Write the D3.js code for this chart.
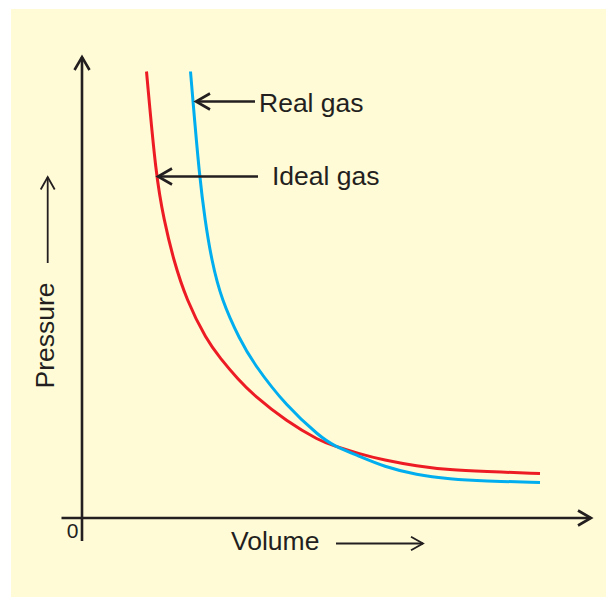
<!DOCTYPE html>
<html>
<head>
<meta charset="utf-8">
<script src="https://cdn.jsdelivr.net/npm/d3@7"></script>
<style>
  html, body { margin: 0; padding: 0; background: #ffffff; }
  svg { display: block; }
  text { font-family: "Liberation Sans", Arial, Helvetica, sans-serif; fill: #231f20; }
</style>
</head>
<body>
<svg id="chart" width="606" height="597"></svg>
<script>
// ---- data ----
const volumeIdeal   = [1.29, 1.48, 1.64, 1.83, 2.09, 2.49, 2.76, 3.13, 3.43, 4.09, 4.76, 5.02, 5.56, 6.03, 6.69, 7.36, 8.03, 9.16];
const pressureIdeal = [8.93, 6.83, 5.96, 5.16, 4.36, 3.56, 3.20, 2.76, 2.46, 1.93, 1.54, 1.45, 1.28, 1.16, 1.04, 0.96, 0.93, 0.89];
const volumeReal    = [2.17, 2.22, 2.35, 2.46, 2.59, 2.79, 3.16, 3.43, 4.09, 4.76, 5.02, 5.56, 6.03, 6.69, 7.36, 8.03, 9.16];
const pressureReal  = [8.93, 8.33, 6.83, 5.96, 5.16, 4.36, 3.56, 3.09, 2.23, 1.63, 1.45, 1.23, 1.03, 0.86, 0.78, 0.74, 0.71];
const seriesNames   = ["Ideal gas", "Real gas"];
const seriesColors  = ["#ed1c24", "#00aeef"];
const tickLabels    = ["0"];
const axisTitles    = ["Volume", "Pressure"];

// ---- layout ----
const svg = d3.select("#chart");
const ink = "#231f20";
svg.append("rect").attr("x", 11).attr("y", 9).attr("width", 595).attr("height", 588).attr("fill", "#fffbd6");

const x = d3.scaleLinear().domain([0, 10]).range([82, 582]);
const y = d3.scaleLinear().domain([0, 9.2]).range([518, 58]);

function arrowHead(g, tx, ty, dir, len, half, width) {
  let p;
  if (dir === "right") p = [[tx - len, ty - half], [tx, ty], [tx - len, ty + half]];
  else if (dir === "left") p = [[tx + len, ty - half], [tx, ty], [tx + len, ty + half]];
  else p = [[tx - half, ty + len], [tx, ty], [tx + half, ty + len]];
  g.append("path").attr("d", d3.line()(p)).attr("fill", "none")
    .attr("stroke", ink).attr("stroke-width", width).attr("stroke-linejoin", "miter");
}

// axes
const axes = svg.append("g");
axes.append("line").attr("x1", x(-0.41)).attr("x2", x(10.18)).attr("y1", y(0)).attr("y2", y(0))
  .attr("stroke", ink).attr("stroke-width", 2.6);
arrowHead(axes, x(10.18), y(0), "right", 13, 7.5, 2.6);
axes.append("line").attr("x1", x(0)).attr("x2", x(0)).attr("y1", y(-0.46)).attr("y2", y(9.22))
  .attr("stroke", ink).attr("stroke-width", 2.6);
arrowHead(axes, x(0), y(9.22), "up", 13, 7.5, 2.6);

// tick label "0"
axes.append("text").attr("x", x(0) - 3.5).attr("y", y(0) + 20).attr("text-anchor", "end")
  .attr("font-size", 21).text(tickLabels[0]);

// axis titles
svg.append("text").attr("x", 231).attr("y", 550).attr("font-size", 26.5).text(axisTitles[0]);
svg.append("line").attr("x1", 336).attr("x2", 423).attr("y1", 543.5).attr("y2", 543.5)
  .attr("stroke", ink).attr("stroke-width", 1.8);
arrowHead(svg, 423, 543.5, "right", 12, 6.7, 1.8);

svg.append("text").attr("transform", "translate(54,335.5) rotate(-90)")
  .attr("text-anchor", "middle").attr("font-size", 26.5).text(axisTitles[1]);
svg.append("line").attr("x1", 47.7).attr("x2", 47.7).attr("y1", 263).attr("y2", 177)
  .attr("stroke", ink).attr("stroke-width", 1.8);
arrowHead(svg, 47.7, 177, "up", 12.5, 7, 1.8);

// curves (smoothed B-spline through the read points)
const line = d3.line().x(d => x(d[0])).y(d => y(d[1])).curve(d3.curveBasis);
const ideal = volumeIdeal.map((v, i) => [v, pressureIdeal[i]]);
const real = volumeReal.map((v, i) => [v, pressureReal[i]]);
[ideal, real].forEach((pts, i) => {
  svg.append("path").datum(pts).attr("d", line).attr("fill", "none")
    .attr("stroke", seriesColors[i]).attr("stroke-width", 3);
});

// annotations
const ann = [
  { name: seriesNames[1], pt: real[1], off: 3, tail: 59, textDx: 63, textDy: 10 },
  { name: seriesNames[0], pt: ideal[1], off: 2, tail: 100, textDx: 114, textDy: 8 }
];
ann.forEach(a => {
  const tx = x(a.pt[0]) + a.off, ty = y(a.pt[1]);
  svg.append("line").attr("x1", tx).attr("x2", tx + a.tail).attr("y1", ty).attr("y2", ty)
    .attr("stroke", ink).attr("stroke-width", 2.6);
  arrowHead(svg, tx, ty, "left", 14, 8, 2.6);
  svg.append("text").attr("x", tx + a.textDx).attr("y", ty + a.textDy).attr("font-size", 26.5).text(a.name);
});
</script>
</body>
</html>
